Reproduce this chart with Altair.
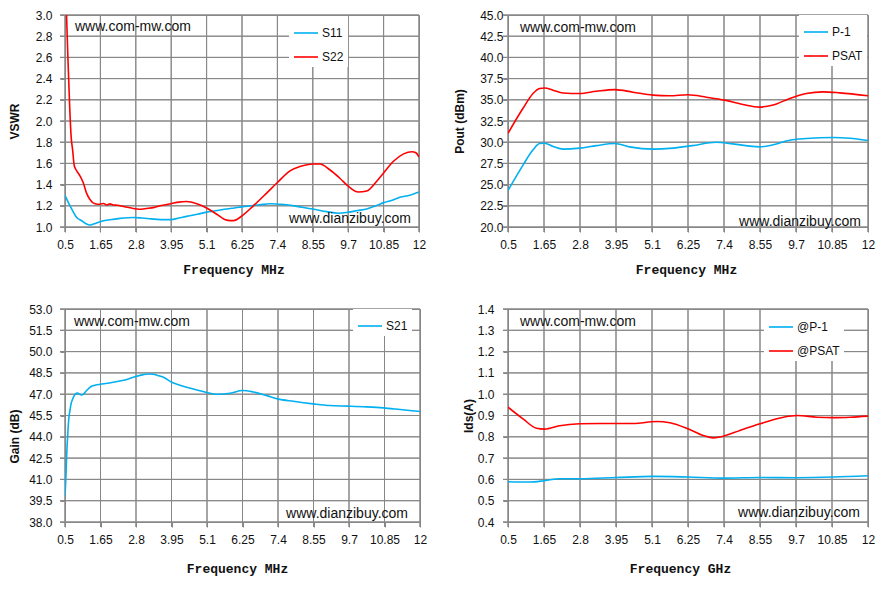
import altair as alt
import pandas as pd

# ---------------- data ----------------
FREQ_TICKS = [0.5, 1.65, 2.8, 3.95, 5.1, 6.25, 7.4, 8.55, 9.7, 10.85, 12]
VSWR_TICKS = [1.0, 1.2, 1.4, 1.6, 1.8, 2.0, 2.2, 2.4, 2.6, 2.8, 3.0]
POUT_TICKS = [20.0, 22.5, 25.0, 27.5, 30.0, 32.5, 35.0, 37.5, 40.0, 42.5, 45.0]
GAIN_TICKS = [38.0, 39.5, 41.0, 42.5, 44.0, 45.5, 47.0, 48.5, 50.0, 51.5, 53.0]
IDS_TICKS = [0.4, 0.5, 0.6, 0.7, 0.8, 0.9, 1.0, 1.1, 1.2, 1.3, 1.4]

S11_F = [0.5, 0.61, 0.72, 0.88, 1.04, 1.2, 1.31, 1.42, 1.64, 1.96, 2.29, 2.72, 3.0, 3.3,
         3.6, 3.95, 4.2, 4.45, 4.8, 5.1, 5.45, 5.75, 6.0, 6.25, 6.55, 6.83, 7.15, 7.45,
         7.7, 8.13, 8.55, 9.0, 9.38, 9.7, 10.0, 10.3, 10.6, 10.85, 11.1, 11.38, 11.7, 12.0]
S11_V = [1.30, 1.23, 1.168, 1.09, 1.059, 1.028, 1.019, 1.028, 1.05, 1.068, 1.081, 1.09, 1.085, 1.077,
         1.07, 1.07, 1.085, 1.10, 1.12, 1.14, 1.155, 1.17, 1.18, 1.19, 1.20, 1.21, 1.22, 1.215,
         1.21, 1.19, 1.17, 1.145, 1.13, 1.14, 1.155, 1.17, 1.20, 1.23, 1.25, 1.28, 1.30, 1.33]

S22_F = [0.5, 0.55, 0.6, 0.65, 0.7, 0.75, 0.8, 0.86, 0.99, 1.09, 1.2, 1.31, 1.47, 1.64, 1.75,
         1.85, 1.96, 2.07, 2.2, 2.4, 2.72, 2.9, 3.15, 3.4, 3.59, 3.95, 4.2, 4.45, 4.78, 5.1,
         5.43, 5.75, 5.97, 6.25, 6.62, 7.05, 7.4, 7.81, 8.13, 8.55, 8.78, 9.1, 9.43, 9.7,
         10.03, 10.3, 10.62, 10.85, 11.17, 11.5, 11.77, 11.9, 12.0]
S22_V = [3.5, 3.0, 2.55, 2.15, 1.85, 1.72, 1.58, 1.54, 1.48, 1.42, 1.32, 1.26, 1.22, 1.215, 1.222,
         1.208, 1.218, 1.208, 1.205, 1.193, 1.175, 1.168, 1.175, 1.185, 1.20, 1.22, 1.235, 1.24, 1.22, 1.18,
         1.12, 1.065, 1.06, 1.105, 1.20, 1.32, 1.42, 1.53, 1.57, 1.595, 1.595, 1.54, 1.46, 1.385,
         1.33, 1.34, 1.43, 1.51, 1.62, 1.69, 1.71, 1.70, 1.66]

PSAT_F = [0.5, 0.98, 1.3, 1.51, 1.67, 1.94, 2.26, 2.79, 3.32, 3.91, 4.49, 5.13, 5.66, 6.25,
          6.84, 7.42, 8.0, 8.54, 8.97, 9.5, 10.03, 10.56, 11.1, 12.0]
PSAT_V = [31.05, 34.0, 35.74, 36.33, 36.4, 36.13, 35.8, 35.74, 36.0, 36.2, 35.9, 35.55, 35.47, 35.59,
          35.3, 34.96, 34.45, 34.14, 34.38, 35.16, 35.74, 35.94, 35.82, 35.47]
P1_F = [0.5, 0.98, 1.3, 1.51, 1.67, 1.94, 2.26, 2.79, 3.32, 3.91, 4.38, 5.13, 5.77, 6.39,
        7.15, 7.68, 8.54, 8.97, 9.5, 10.03, 10.88, 11.41, 12.0]
P1_V = [24.3, 27.3, 29.1, 29.84, 29.88, 29.5, 29.18, 29.3, 29.6, 29.84, 29.45, 29.18, 29.3, 29.6,
        30.0, 29.8, 29.45, 29.69, 30.23, 30.43, 30.55, 30.47, 30.2]

S21_F = [0.5, 0.53, 0.56, 0.59, 0.62, 0.66, 0.7, 0.75, 0.8, 0.86, 0.91, 0.96, 1.03, 1.1, 1.2,
         1.36, 1.5, 1.65, 2.06, 2.44, 2.71, 3.04, 3.2, 3.36, 3.5, 3.69, 3.96, 4.2, 4.44, 4.8,
         5.09, 5.41, 5.85, 6.25, 6.6, 7.04, 7.39, 7.9, 8.54, 9.08, 9.68, 10.27, 10.81, 11.36, 12.0]
S21_V = [39.8, 41.2, 43.0, 44.2, 45.2, 45.85, 46.35, 46.67, 46.9, 47.07, 47.08, 47.02, 46.95, 47.0, 47.26,
         47.56, 47.65, 47.70, 47.84, 48.0, 48.19, 48.38, 48.42, 48.4, 48.32, 48.19, 47.84, 47.65, 47.49, 47.28,
         47.12, 47.0, 47.07, 47.26, 47.16, 46.9, 46.67, 46.5, 46.32, 46.2, 46.16, 46.11, 46.04, 45.92, 45.78]

IPSAT_F = [0.5, 0.98, 1.41, 1.67, 2.15, 2.79, 3.43, 4.5, 5.25, 5.67, 6.25, 6.74, 7.06, 7.38,
           7.91, 8.55, 9.3, 9.73, 10.37, 10.9, 11.43, 12.0]
IPSAT_V = [0.939, 0.884, 0.84, 0.836, 0.852, 0.861, 0.8625, 0.8625, 0.872, 0.866, 0.8375, 0.806, 0.795, 0.803,
           0.83, 0.861, 0.892, 0.90, 0.892, 0.89, 0.892, 0.897]
IP1_F = [0.5, 1.19, 1.67, 2.15, 2.79, 3.96, 5.14, 6.25, 7.38, 8.55, 9.73, 10.9, 12.0]
IP1_V = [0.589, 0.5875, 0.594, 0.603, 0.603, 0.609, 0.614, 0.611, 0.606, 0.609, 0.608, 0.611, 0.617]

WM_TOP = "www.com-mw.com"
WM_BOT = "www.dianzibuy.com"

BLUE = "#00B0F0"
RED = "#FF0000"
GRID = "#878787"
SANS = "Liberation Sans"
MONO = "Liberation Mono"
WM_FONT = "Liberation Sans Narrow, Liberation Sans"
TICK = 5


def panel(series, yticks, ytitle, xtitle, w, h, ylabpad, ytoff, xtpad, xtx,
          legxy, wm_top_xy, wm_bot_xy, ytitle_y=None):
    frames = [pd.DataFrame({"f": f, "v": v, "series": n}) for n, f, v, c in series]
    df = pd.concat(frames, ignore_index=True)
    names = [s[0] for s in series]
    cols = [s[3] for s in series]

    yax = dict(values=yticks, format=".1f", title=ytitle, titleFont=SANS, titleFontSize=12,
               titleFontWeight="bold", titleColor="#111", titlePadding=0,
               minExtent=ytoff, maxExtent=ytoff, labelPadding=ylabpad, tickSize=TICK,
               labelOverlap=False, grid=False, tickColor=GRID, domainColor=GRID,
               labelFont=SANS, labelFontSize=12, labelColor="#111")
    if ytitle_y is not None:
        yax["titleY"] = ytitle_y
    xax = dict(values=FREQ_TICKS, labelExpr="format(datum.value, '~g')", title=xtitle,
               titleFont=MONO, titleFontSize=13,
               titleFontWeight="bold", titleColor="#111", titlePadding=xtpad,
               minExtent=20, maxExtent=20, labelPadding=7, tickSize=TICK, titleX=xtx,
               labelOverlap=False, labelFlush=False, grid=False, tickColor=GRID,
               domainColor=GRID, labelFont=SANS, labelFontSize=12, labelColor="#111")

    xs = alt.Scale(domain=[0.5, 12], nice=False, zero=False)
    ys = alt.Scale(domain=[yticks[0], yticks[-1]], nice=False, zero=False)

    # grid lines (+ outside tick stubs) drawn as zero-thickness stroked rects
    vgrid = alt.Chart(pd.DataFrame({"f": FREQ_TICKS})).mark_rect(
        fill=GRID, stroke=GRID, strokeWidth=1).encode(
        x=alt.X("f:Q", scale=xs, axis=alt.Axis(**xax)), x2="f",
        y=alt.value(0), y2=alt.value(h + TICK))
    hgrid = alt.Chart(pd.DataFrame({"v": yticks})).mark_rect(
        fill=GRID, stroke=GRID, strokeWidth=1).encode(
        y=alt.Y("v:Q", scale=ys, axis=alt.Axis(**yax)), y2="v",
        x=alt.value(-TICK), x2=alt.value(w))

    lines = alt.Chart(df).mark_line(strokeWidth=1.6, clip=True, interpolate="monotone").encode(
        x=alt.X("f:Q", scale=xs, axis=alt.Axis(**xax)),
        y=alt.Y("v:Q", scale=ys, axis=alt.Axis(**yax)),
        color=alt.Color("series:N", sort=names, scale=alt.Scale(domain=names, range=cols),
                        legend=alt.Legend(title=None, orient="none", legendX=legxy[0], legendY=legxy[1],
                                          fillColor="white", padding=4, symbolType="stroke",
                                          symbolSize=576, symbolStrokeWidth=1.6, labelFont=SANS,
                                          labelFontSize=12, labelColor="#111", labelOffset=3,
                                          rowPadding=5)),
    )
    t1 = alt.Chart(pd.DataFrame({"t": [WM_TOP]})).mark_text(
        align="left", baseline="alphabetic", font=WM_FONT, fontSize=14, color="#111"
    ).encode(x=alt.value(wm_top_xy[0]), y=alt.value(wm_top_xy[1]), text="t:N")
    t2 = alt.Chart(pd.DataFrame({"t": [WM_BOT]})).mark_text(
        align="right", baseline="alphabetic", font=WM_FONT, fontSize=14, color="#111"
    ).encode(x=alt.value(wm_bot_xy[0]), y=alt.value(wm_bot_xy[1]), text="t:N")
    return alt.layer(vgrid, hgrid, lines, t1, t2).properties(width=w, height=h)


p1 = panel([("S11", S11_F, S11_V, BLUE), ("S22", S22_F, S22_V, RED)], VSWR_TICKS, "VSWR",
           "Frequency MHz", 354, 212, 8, 43.5, 16.5, 168.5, (224, 1), (10, 15.5), (346, 207.7))
p2 = panel([("P-1", P1_F, P1_V, BLUE), ("PSAT", PSAT_F, PSAT_V, RED)], POUT_TICKS, "Pout (dBm)",
           "Frequency MHz", 360, 212, 0, 41.5, 16.5, 178, (291, 0), (12, 16.5), (353, 210.5))
p3 = panel([("S21", S21_F, S21_V, BLUE)], GAIN_TICKS, "Gain (dB)",
           "Frequency MHz", 355, 213, 8, 43.5, 20.5, 172, (288, 0), (9, 16.5), (343, 208.5),
           ytitle_y=127)
p4 = panel([("@P-1", IP1_F, IP1_V, BLUE), ("@PSAT", IPSAT_F, IPSAT_V, RED)], IDS_TICKS, "Ids(A)",
           "Frequency GHz", 360, 213, 9, 32.5, 20.5, 172, (256, 1), (12, 16.5), (352, 207.5))

row1 = alt.hconcat(p1, p2, spacing=26).resolve_scale(color="independent")
row2 = alt.hconcat(p3, p4, spacing=34).resolve_scale(color="independent")

chart = alt.vconcat(row1, row2, spacing=25).resolve_scale(color="independent").properties(
    padding={"left": 0, "top": 0, "right": 0, "bottom": 0}, background="white"
).configure_view(stroke=GRID)

chart.save("out.html", embed_options={"renderer": "svg", "actions": False})
